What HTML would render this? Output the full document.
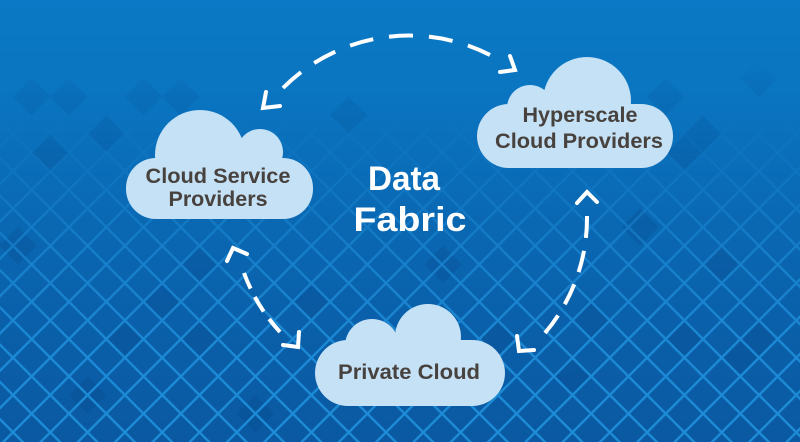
<!DOCTYPE html>
<html>
<head>
<meta charset="utf-8">
<style>
  html, body { margin: 0; padding: 0; background: #0b78c4; }
  svg { display: block; }
  .t { font-family: "Liberation Sans", Arial, sans-serif; font-weight: 700; }
</style>
</head>
<body>
<svg width="800" height="442" viewBox="0 0 800 442" xmlns="http://www.w3.org/2000/svg">
  <defs>
    <linearGradient id="bg" x1="0" y1="0" x2="0" y2="442" gradientUnits="userSpaceOnUse">
      <stop offset="0" stop-color="#0b79c5"/>
      <stop offset="0.2" stop-color="#0a75c1"/>
      <stop offset="0.45" stop-color="#0a6ab5"/>
      <stop offset="0.72" stop-color="#0a60aa"/>
      <stop offset="1" stop-color="#0a59a2"/>
    </linearGradient>
    <linearGradient id="mg" x1="0" y1="0" x2="0" y2="442" gradientUnits="userSpaceOnUse">
      <stop offset="0" stop-color="#000"/>
      <stop offset="0.24" stop-color="#000"/>
      <stop offset="0.4" stop-color="#444"/>
      <stop offset="0.6" stop-color="#b0b0b0"/>
      <stop offset="0.78" stop-color="#f0f0f0"/>
      <stop offset="1" stop-color="#fff"/>
    </linearGradient>
    <mask id="lm" maskUnits="userSpaceOnUse" x="0" y="0" width="800" height="442">
      <rect x="0" y="0" width="800" height="442" fill="url(#mg)"/>
    </mask>
    <linearGradient id="dg" x1="0" y1="0" x2="0" y2="442" gradientUnits="userSpaceOnUse">
      <stop offset="0" stop-color="#000"/>
      <stop offset="0.13" stop-color="#000"/>
      <stop offset="0.22" stop-color="#777"/>
      <stop offset="0.4" stop-color="#ddd"/>
      <stop offset="1" stop-color="#fff"/>
    </linearGradient>
    <mask id="dm" maskUnits="userSpaceOnUse" x="0" y="0" width="800" height="442">
      <rect x="0" y="0" width="800" height="442" fill="url(#dg)"/>
    </mask>
    <pattern id="grid" patternUnits="userSpaceOnUse" width="26.375" height="26.375"
             patternTransform="translate(13,395) rotate(45) translate(-1.2,-1.2)">
      <rect x="0" y="0" width="26.375" height="2.4" fill="#1e8cd7"/>
      <rect x="0" y="0" width="2.4" height="26.375" fill="#1e8cd7"/>
    </pattern>
  </defs>

  <!-- background -->
  <rect x="0" y="0" width="800" height="442" fill="url(#bg)"/>

  <!-- darker diamond cells -->
  <g mask="url(#dm)" fill="#05488c" fill-opacity="0.3">
    <path d="
      M31.65,77.95 L50.3,96.6 L31.65,115.25 L13,96.6 Z
      M68.95,77.95 L87.6,96.6 L68.95,115.25 L50.3,96.6 Z
      M143.55,77.95 L162.2,96.6 L143.55,115.25 L124.9,96.6 Z
      M180.85,77.95 L199.5,96.6 L180.85,115.25 L162.2,96.6 Z
      M665.75,77.95 L684.4,96.6 L665.75,115.25 L647.1,96.6 Z
      M759,59.3 L777.65,77.95 L759,96.6 L740.35,77.95 Z
      M348.7,96.6 L367.35,115.25 L348.7,133.9 L330.05,115.25 Z
      M50.3,133.9 L68.95,152.55 L50.3,171.2 L31.65,152.55 Z
      M106.25,115.25 L124.9,133.9 L106.25,152.55 L87.6,133.9 Z
      M703.05,115.25 L721.7,133.9 L703.05,152.55 L684.4,133.9 Z
      M684.4,133.9 L703.05,152.55 L684.4,171.2 L665.75,152.55 Z
      M18,227.15 L36.65,245.8 L18,264.45 L-0.65,245.8 Z
      M311.4,283.1 L330.05,301.75 L311.4,320.4 L292.75,301.75 Z
      M162.2,283.1 L180.85,301.75 L162.2,320.4 L143.55,301.75 Z
      M199.5,245.8 L218.15,264.45 L199.5,283.1 L180.85,264.45 Z
      M497.9,320.4 L516.55,339.05 L497.9,357.7 L479.25,339.05 Z
      M684.4,320.4 L703.05,339.05 L684.4,357.7 L665.75,339.05 Z
      M759,320.4 L777.65,339.05 L759,357.7 L740.35,339.05 Z
      M199.5,320.4 L218.15,339.05 L199.5,357.7 L180.85,339.05 Z
      M124.9,320.4 L143.55,339.05 L124.9,357.7 L106.25,339.05 Z
      M591.15,301.75 L609.8,320.4 L591.15,339.05 L572.5,320.4 Z
      M740.35,339.05 L759,357.7 L740.35,376.35 L721.7,357.7 Z
      M640,208.5 L658.65,227.15 L640,245.8 L621.35,227.15 Z
      M443,245.8 L461.65,264.45 L443,283.1 L424.35,264.45 Z
      M87.6,376.35 L106.25,395 L87.6,413.65 L68.95,395 Z
      M255.45,395 L274.1,413.65 L255.45,432.3 L236.8,413.65 Z
      M572.5,357.7 L591.15,376.35 L572.5,395 L553.85,376.35 Z
      M721.7,245.8 L740.35,264.45 L721.7,283.1 L703.05,264.45 Z
    "/>
  </g>

  <!-- grid lines -->
  <rect x="0" y="0" width="800" height="442" fill="url(#grid)" mask="url(#lm)"/>

  <!-- dashed connectors -->
  <g fill="none" stroke="#ffffff" stroke-width="4">
    <path d="M283,88 A178,178 0 0 1 492,56" stroke-dasharray="24 16"/>
    <path d="M244,273 A176,176 0 0 0 280,332" stroke-dasharray="17 9.3"/>
    <path d="M587,216 A178,178 0 0 1 545,333" stroke-dasharray="22 13"/>
  </g>
  <!-- arrowheads -->
  <g fill="none" stroke="#ffffff" stroke-width="4" stroke-linecap="round" stroke-linejoin="miter">
    <polyline points="280,106 263,108 266,92"/>
    <polyline points="500,72 515,70 510,56"/>
    <polyline points="247,254 233,248 227,261"/>
    <polyline points="283,345 298,347 299,332"/>
    <polyline points="577,203 587,192 597,202"/>
    <polyline points="534,350 519,351 517,336"/>
  </g>

  <!-- cloud 1 -->
  <g fill="#c5e1f5">
    <rect x="126" y="158" width="187" height="61" rx="30" ry="30"/>
    <circle cx="200" cy="155" r="45"/>
    <circle cx="260" cy="152" r="23"/>
  </g>
  <!-- cloud 2 -->
  <g fill="#c5e1f5">
    <rect x="477" y="104" width="196" height="64" rx="32" ry="32"/>
    <circle cx="587" cy="101" r="44"/>
    <circle cx="530" cy="108" r="23"/>
  </g>
  <!-- cloud 3 -->
  <g fill="#c5e1f5">
    <rect x="315" y="340" width="190" height="66" rx="33" ry="33"/>
    <circle cx="428" cy="337" r="33"/>
    <circle cx="372" cy="346" r="27"/>
  </g>

  <!-- cloud labels -->
  <g class="t" fill="#48423f" font-size="21.5" text-anchor="middle">
    <text x="218" y="183" textLength="145" lengthAdjust="spacingAndGlyphs">Cloud Service</text>
    <text x="218" y="206" textLength="99" lengthAdjust="spacingAndGlyphs">Providers</text>
    <text x="580" y="122" textLength="115" lengthAdjust="spacingAndGlyphs">Hyperscale</text>
    <text x="579" y="148" textLength="168" lengthAdjust="spacingAndGlyphs">Cloud Providers</text>
    <text x="409" y="379" textLength="142" lengthAdjust="spacingAndGlyphs">Private Cloud</text>
  </g>

  <!-- center title -->
  <g class="t" fill="#ffffff" font-size="34.5" text-anchor="middle">
    <text x="404" y="190" textLength="72" lengthAdjust="spacingAndGlyphs">Data</text>
    <text x="410" y="231" textLength="113" lengthAdjust="spacingAndGlyphs">Fabric</text>
  </g>
</svg>
</body>
</html>
